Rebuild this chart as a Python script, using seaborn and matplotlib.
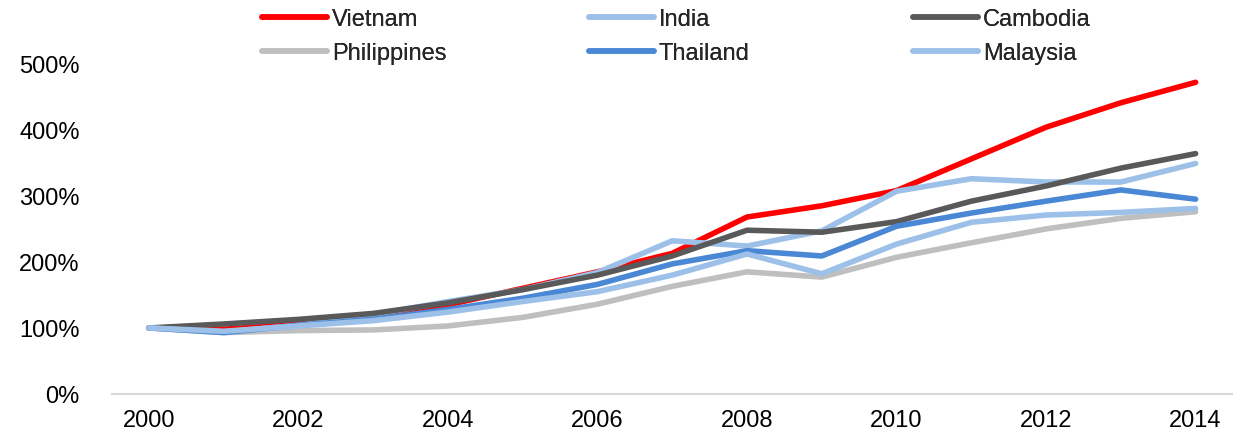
import pandas as pd
import numpy as np
import matplotlib.pyplot as plt
import seaborn as sns
from matplotlib.ticker import FuncFormatter

years = list(range(2000, 2015))
vietnam = [100, 98, 106, 118, 135, 160, 185, 213, 268, 285, 308, 356, 404, 441, 472]
india = [100, 94, 104, 120, 140, 158, 184, 232, 224, 247, 307, 326, 321, 321, 349]
cambodia = [100, 106, 113, 122, 138, 158, 180, 209, 248, 245, 261, 292, 315, 342, 364]
philippines = [100, 93, 96, 97, 103, 116, 136, 163, 185, 177, 207, 229, 250, 266, 276]
thailand = [100, 93, 104, 113, 128, 145, 166, 197, 217, 209, 254, 274, 292, 309, 295]
malaysia = [100, 95, 103, 111, 124, 140, 155, 180, 212, 182, 227, 260, 271, 275, 281]

series = {
    "Vietnam": vietnam,
    "India": india,
    "Cambodia": cambodia,
    "Philippines": philippines,
    "Thailand": thailand,
    "Malaysia": malaysia,
}
colors = {
    "Vietnam": "#FF0000",
    "India": "#9DC0E8",
    "Cambodia": "#595959",
    "Philippines": "#BFBFBF",
    "Thailand": "#4A88D6",
    "Malaysia": "#9DC0E8",
}

df = pd.DataFrame(
    [(y, name, v) for name, vals in series.items() for y, v in zip(years, vals)],
    columns=["Year", "Country", "Value"],
)

sns.set_style("white")
plt.rcParams["font.family"] = ["Liberation Sans", "DejaVu Sans"]
FS = 17

fig = plt.figure(figsize=(12.33, 4.35), dpi=100)
ax = fig.add_axes([0.0905, 0.092, 0.9095, 0.759])

for name in series:
    sns.lineplot(
        data=df[df.Country == name], x="Year", y="Value",
        color=colors[name], linewidth=4, label=name, ax=ax,
        solid_capstyle="round", solid_joinstyle="round",
    )

ax.set_xlim(1999.5, 2014.5)
ax.set_ylim(0, 500)
ax.set_yticks(range(0, 501, 100))
ax.yaxis.set_major_formatter(FuncFormatter(lambda v, p: f"{int(v)}%"))
ax.set_xticks(range(2000, 2015, 2))
ax.tick_params(axis="both", labelsize=FS, length=0, colors="black")
ax.tick_params(axis="y", pad=23)
ax.tick_params(axis="x", pad=11)
ax.set_xlabel("")
ax.set_ylabel("")
for s in ["top", "right", "left"]:
    ax.spines[s].set_visible(False)
ax.spines["bottom"].set_color("#D9D9D9")
ax.spines["bottom"].set_linewidth(1.5)

# legend: three columns, two rows, at fixed positions
hmap = dict(zip(*ax.get_legend_handles_labels()[::-1]))
ax.get_legend().remove()
cols = [["Vietnam", "Philippines"], ["India", "Thailand"], ["Cambodia", "Malaysia"]]
xpos = [262, 589, 913]
for names, xp in zip(cols, xpos):
    leg = fig.legend(
        [hmap[n] for n in names], names, frameon=False,
        loc="upper left", bbox_to_anchor=(xp / 1233, 1 - 9 / 435),
        fontsize=FS, handlelength=2.75, handletextpad=0.2,
        labelspacing=0.5, borderpad=0, borderaxespad=0,
    )
    fig.add_artist(leg)

fig.savefig("out.png", dpi=100)
